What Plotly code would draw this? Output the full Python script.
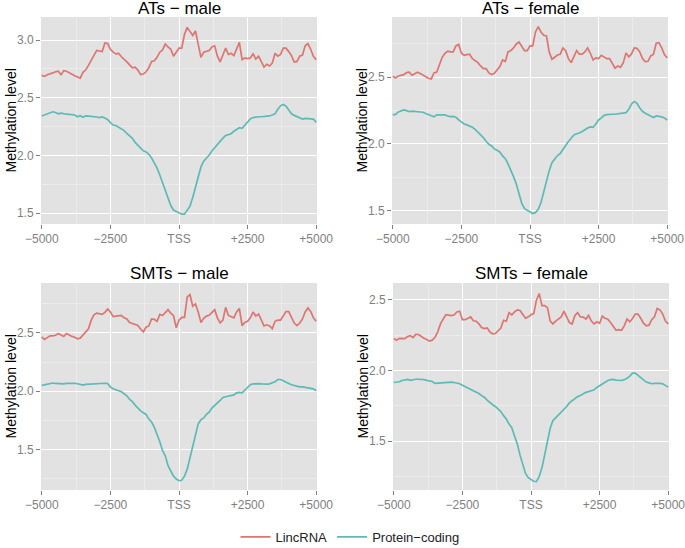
import plotly.graph_objects as go
from plotly.subplots import make_subplots

# bins around the TSS (bp)
positions = list(range(-5000, 5001, 100))

x_tickvals = [-5000, -2500, 0, 2500, 5000]
x_ticktext = ['\u22125000', '\u22122500', 'TSS', '+2500', '+5000']

panel_titles = ['ATs \u2212 male', 'ATs \u2212 female', 'SMTs \u2212 male', 'SMTs \u2212 female']

ats_male_linc = [
    2.694, 2.685, 2.70, 2.705, 2.715, 2.725, 2.73, 2.70, 2.735, 2.73,
    2.715, 2.70, 2.69, 2.68, 2.67, 2.72, 2.74, 2.78, 2.82, 2.87,
    2.91, 2.905, 2.90, 2.975, 2.97, 2.92, 2.895, 2.88, 2.885, 2.855,
    2.835, 2.81, 2.785, 2.76, 2.765, 2.74, 2.70, 2.705, 2.725, 2.76,
    2.815, 2.82, 2.85, 2.895, 2.915, 2.965, 2.94, 2.92, 2.86, 2.89,
    2.93, 2.93, 3.05, 3.11, 3.07, 3.04, 3.08, 2.97, 2.85, 2.895,
    2.905, 2.91, 2.94, 2.95, 2.86, 2.81, 2.87, 2.93, 2.875, 2.885,
    2.865, 2.93, 2.98, 2.83, 2.845, 2.84, 2.845, 2.88, 2.835, 2.86,
    2.81, 2.765, 2.79, 2.775, 2.80, 2.885, 2.86, 2.875, 2.93, 2.93,
    2.90, 2.865, 2.81, 2.815, 2.86, 2.87, 2.95, 2.97, 2.92, 2.86,
    2.83]
ats_male_prot = [
    2.341, 2.35, 2.36, 2.37, 2.378, 2.372, 2.361, 2.367, 2.36, 2.357,
    2.355, 2.353, 2.35, 2.335, 2.344, 2.33, 2.343, 2.341, 2.34, 2.338,
    2.333, 2.327, 2.334, 2.325, 2.31, 2.284, 2.263, 2.258, 2.243, 2.228,
    2.215, 2.19, 2.165, 2.148, 2.113, 2.09, 2.064, 2.04, 2.03, 2.01,
    1.978, 1.94, 1.89, 1.83, 1.765, 1.70, 1.62, 1.565, 1.526, 1.514,
    1.50, 1.49, 1.49, 1.52, 1.56, 1.635, 1.72, 1.81, 1.90, 1.95,
    1.975, 2.003, 2.038, 2.068, 2.095, 2.124, 2.15, 2.172, 2.178, 2.188,
    2.21, 2.228, 2.24, 2.234, 2.265, 2.295, 2.317, 2.328, 2.334, 2.335,
    2.335, 2.336, 2.338, 2.342, 2.35, 2.36, 2.40, 2.43, 2.442, 2.428,
    2.393, 2.36, 2.347, 2.335, 2.325, 2.315, 2.32, 2.318, 2.315, 2.315,
    2.286]

ats_female_linc = [
    2.508, 2.495, 2.51, 2.513, 2.52, 2.535, 2.538, 2.515, 2.525, 2.538,
    2.528, 2.515, 2.505, 2.493, 2.488, 2.533, 2.54, 2.595, 2.65, 2.68,
    2.695, 2.69, 2.69, 2.735, 2.748, 2.68, 2.665, 2.67, 2.673, 2.64,
    2.625, 2.61, 2.585, 2.565, 2.565, 2.533, 2.52, 2.53, 2.555, 2.58,
    2.63, 2.618, 2.69, 2.70, 2.72, 2.75, 2.765, 2.735, 2.70, 2.70,
    2.735, 2.735, 2.84, 2.88, 2.84, 2.815, 2.81, 2.69, 2.635, 2.65,
    2.667, 2.673, 2.72, 2.70, 2.64, 2.61, 2.66, 2.70, 2.673, 2.673,
    2.69, 2.72, 2.68, 2.63, 2.646, 2.641, 2.665, 2.655, 2.64, 2.64,
    2.60, 2.568, 2.585, 2.575, 2.61, 2.683, 2.653, 2.675, 2.72, 2.717,
    2.69, 2.64, 2.618, 2.62, 2.66, 2.673, 2.755, 2.76, 2.72, 2.67,
    2.645]
ats_female_prot = [
    2.218, 2.222, 2.24, 2.25, 2.255, 2.25, 2.243, 2.246, 2.245, 2.243,
    2.24, 2.238, 2.228, 2.22, 2.21, 2.203, 2.218, 2.218, 2.218, 2.218,
    2.21, 2.205, 2.207, 2.20, 2.18, 2.165, 2.15, 2.143, 2.135, 2.125,
    2.11, 2.09, 2.068, 2.048, 2.02, 1.998, 1.985, 1.963, 1.953, 1.94,
    1.91, 1.89, 1.85, 1.805, 1.755, 1.70, 1.618, 1.555, 1.515, 1.502,
    1.493, 1.478, 1.485, 1.51, 1.56, 1.643, 1.72, 1.80, 1.86, 1.89,
    1.913, 1.928, 1.96, 1.99, 2.018, 2.043, 2.068, 2.077, 2.082, 2.093,
    2.11, 2.12, 2.128, 2.125, 2.15, 2.18, 2.195, 2.215, 2.22, 2.223,
    2.223, 2.223, 2.225, 2.228, 2.229, 2.235, 2.26, 2.30, 2.318, 2.305,
    2.27, 2.245, 2.23, 2.22, 2.208, 2.198, 2.21, 2.207, 2.203, 2.195,
    2.18]

smts_male_linc = [
    2.465, 2.445, 2.46, 2.475, 2.475, 2.48, 2.495, 2.485, 2.47, 2.495,
    2.48, 2.47, 2.463, 2.45, 2.455, 2.48, 2.51, 2.535, 2.61, 2.655,
    2.67, 2.665, 2.66, 2.677, 2.705, 2.68, 2.64, 2.645, 2.645, 2.65,
    2.63, 2.62, 2.59, 2.58, 2.577, 2.565, 2.534, 2.51, 2.55, 2.56,
    2.62, 2.617, 2.60, 2.66, 2.65, 2.677, 2.70, 2.67, 2.649, 2.545,
    2.61, 2.634, 2.634, 2.81, 2.83, 2.73, 2.75, 2.68, 2.59, 2.626,
    2.645, 2.652, 2.68, 2.70, 2.63, 2.586, 2.61, 2.72, 2.65, 2.64,
    2.63, 2.68, 2.71, 2.563, 2.59, 2.60, 2.63, 2.68, 2.645, 2.663,
    2.61, 2.56, 2.57, 2.56, 2.537, 2.60, 2.61, 2.61, 2.645, 2.683,
    2.683, 2.635, 2.585, 2.563, 2.585, 2.62, 2.68, 2.715, 2.685, 2.63,
    2.60]
smts_male_prot = [
    2.05, 2.056, 2.06, 2.068, 2.07, 2.066, 2.063, 2.06, 2.063, 2.066,
    2.068, 2.07, 2.068, 2.064, 2.06, 2.052, 2.058, 2.06, 2.064, 2.066,
    2.068, 2.07, 2.07, 2.068, 2.066, 2.035, 2.02, 2.012, 2.005, 1.995,
    1.978, 1.96, 1.93, 1.91, 1.88, 1.85, 1.83, 1.815, 1.80, 1.76,
    1.735, 1.69, 1.63, 1.566, 1.49, 1.445, 1.36, 1.32, 1.27, 1.245,
    1.232, 1.235, 1.27, 1.33, 1.43, 1.53, 1.63, 1.72, 1.755, 1.77,
    1.80, 1.82, 1.855, 1.88, 1.90, 1.92, 1.946, 1.952, 1.957, 1.962,
    1.968, 1.985, 1.99, 1.985, 2.01, 2.03, 2.055, 2.062, 2.066, 2.064,
    2.062, 2.06, 2.06, 2.063, 2.07, 2.08, 2.10, 2.10, 2.09, 2.075,
    2.066, 2.055, 2.048, 2.04, 2.037, 2.037, 2.033, 2.031, 2.027, 2.02,
    2.003]

smts_female_linc = [
    2.226, 2.215, 2.228, 2.228, 2.226, 2.24, 2.246, 2.233, 2.256, 2.255,
    2.24, 2.228, 2.22, 2.208, 2.215, 2.235, 2.274, 2.33, 2.365, 2.395,
    2.392, 2.389, 2.395, 2.415, 2.42, 2.36, 2.36, 2.37, 2.38, 2.352,
    2.349, 2.33, 2.305, 2.297, 2.302, 2.274, 2.26, 2.262, 2.285, 2.30,
    2.356, 2.349, 2.41, 2.395, 2.415, 2.43, 2.425, 2.396, 2.37, 2.38,
    2.395, 2.403, 2.50, 2.545, 2.46, 2.46, 2.445, 2.35, 2.33, 2.35,
    2.365, 2.38, 2.42, 2.38, 2.34, 2.33, 2.39, 2.41, 2.38, 2.378,
    2.365, 2.39, 2.35, 2.33, 2.345, 2.335, 2.385, 2.37, 2.363, 2.34,
    2.31, 2.285, 2.29, 2.285, 2.316, 2.365, 2.345, 2.368, 2.40, 2.40,
    2.37, 2.335, 2.316, 2.321, 2.36, 2.38, 2.44, 2.43, 2.40, 2.35,
    2.33]
smts_female_prot = [
    1.915, 1.915, 1.92, 1.929, 1.935, 1.937, 1.93, 1.935, 1.938, 1.938,
    1.938, 1.935, 1.93, 1.926, 1.922, 1.908, 1.91, 1.915, 1.917, 1.918,
    1.919, 1.918, 1.915, 1.912, 1.906, 1.895, 1.885, 1.875, 1.867, 1.857,
    1.848, 1.837, 1.822, 1.81, 1.79, 1.772, 1.757, 1.745, 1.728, 1.709,
    1.68, 1.656, 1.62, 1.595, 1.535, 1.48, 1.40, 1.33, 1.27, 1.24,
    1.225, 1.215, 1.212, 1.25, 1.31, 1.40, 1.51, 1.59, 1.645, 1.665,
    1.683, 1.70, 1.725, 1.745, 1.77, 1.787, 1.803, 1.815, 1.822, 1.835,
    1.845, 1.85, 1.857, 1.863, 1.88, 1.893, 1.905, 1.92, 1.929, 1.935,
    1.937, 1.932, 1.929, 1.929, 1.935, 1.944, 1.96, 1.981, 1.982, 1.965,
    1.945, 1.928, 1.918, 1.912, 1.906, 1.908, 1.91, 1.908, 1.905, 1.895,
    1.882]

panels = [
    (ats_male_linc, ats_male_prot),
    (ats_female_linc, ats_female_prot),
    (smts_male_linc, smts_male_prot),
    (smts_female_linc, smts_female_prot),
]

W, H = 685, 548
ML, MR, MT, MB = 41, 16, 17, 58
PW, PH = W - ML - MR, H - MT - MB


def px_x(p):
    return (p - ML) / PW


def px_y(p):
    return (H - MB - p) / PH


# panel boxes in pixels: left, right, top, bottom
boxes = [(41, 317, 17, 224), (392, 668, 17, 224),
         (41, 317, 283, 490), (393, 669, 283, 490)]
y_ranges = [[1.405, 3.20], [1.40, 2.952], [1.151, 2.929], [1.153, 2.62]]

red = '#DE7570'
teal = '#5DBAB6'
font = 'Liberation Sans, Arial, sans-serif'
grey = '#7F7F7F'

fig = make_subplots(rows=2, cols=2)

for k, (linc, prot) in enumerate(panels):
    r, c = k // 2 + 1, k % 2 + 1
    fig.add_trace(go.Scatter(x=positions, y=linc, mode='lines', name='LincRNA',
                             line=dict(color=red, width=1.7),
                             showlegend=(k == 0), legendgroup='linc'), row=r, col=c)
    fig.add_trace(go.Scatter(x=positions, y=prot, mode='lines', name='Protein\u2212coding',
                             line=dict(color=teal, width=1.7),
                             showlegend=(k == 0), legendgroup='prot'), row=r, col=c)

annotations = []
for k in range(4):
    l, rgt, t, b = boxes[k]
    sfx = '' if k == 0 else str(k + 1)
    fig.layout['xaxis' + sfx].update(
        domain=[max(0, px_x(l)), min(1, px_x(rgt))], range=[-5030, 5030],
        automargin=False, ticklabeloverflow='allow',
        tickvals=x_tickvals, ticktext=x_ticktext,
        ticks='outside', ticklen=4, tickcolor=grey, tickwidth=1,
        tickfont=dict(size=12, color=grey, family=font),
        showgrid=True, gridcolor='white', gridwidth=1.3, zeroline=False,
        minor=dict(tickvals=[-3750, -1250, 1250, 3750], showgrid=True,
                   gridcolor='#EBEBEB', gridwidth=0.5, ticks=''),
        showline=False)
    fig.layout['yaxis' + sfx].update(
        domain=[max(0, px_y(b)), min(1, px_y(t))], range=y_ranges[k],
        automargin=False, ticklabeloverflow='allow',
        dtick=0.5, tick0=0, tickformat='.1f',
        ticks='outside', ticklen=4, tickcolor=grey, tickwidth=1,
        tickfont=dict(size=12, color=grey, family=font),
        showgrid=True, gridcolor='white', gridwidth=1.3, zeroline=False,
        minor=dict(dtick=0.25, tick0=0.25, showgrid=True,
                   gridcolor='#EBEBEB', gridwidth=0.5, ticks=''),
        showline=False)
    annotations.append(dict(text=panel_titles[k], x=px_x((l + rgt) / 2), y=px_y(t - 9),
                            xref='paper', yref='paper', showarrow=False,
                            xanchor='center', yanchor='middle',
                            font=dict(size=17, color='black', family=font)))
    annotations.append(dict(text='Methylation level', x=px_x(l - 31), y=px_y((t + b) / 2),
                            xref='paper', yref='paper', showarrow=False, textangle=-90,
                            xanchor='center', yanchor='middle',
                            font=dict(size=14, color='black', family=font)))

fig.update_layout(
    width=W, height=H,
    margin=dict(l=ML, r=MR, t=MT, b=MB, autoexpand=False),
    paper_bgcolor='white',
    plot_bgcolor='#E2E2E2',
    font=dict(family=font),
    annotations=annotations,
    legend=dict(orientation='h', x=px_x(350), xanchor='center', y=px_y(537), yanchor='middle',
                font=dict(size=13, color='#222222', family=font),
                itemwidth=30, bgcolor='rgba(0,0,0,0)'),
)

# drop the default page margin so the figure sits at the window's top-left corner
fig.write_html('out.html', config={'displayModeBar': False},
               post_script="document.body.style.margin='0';")
